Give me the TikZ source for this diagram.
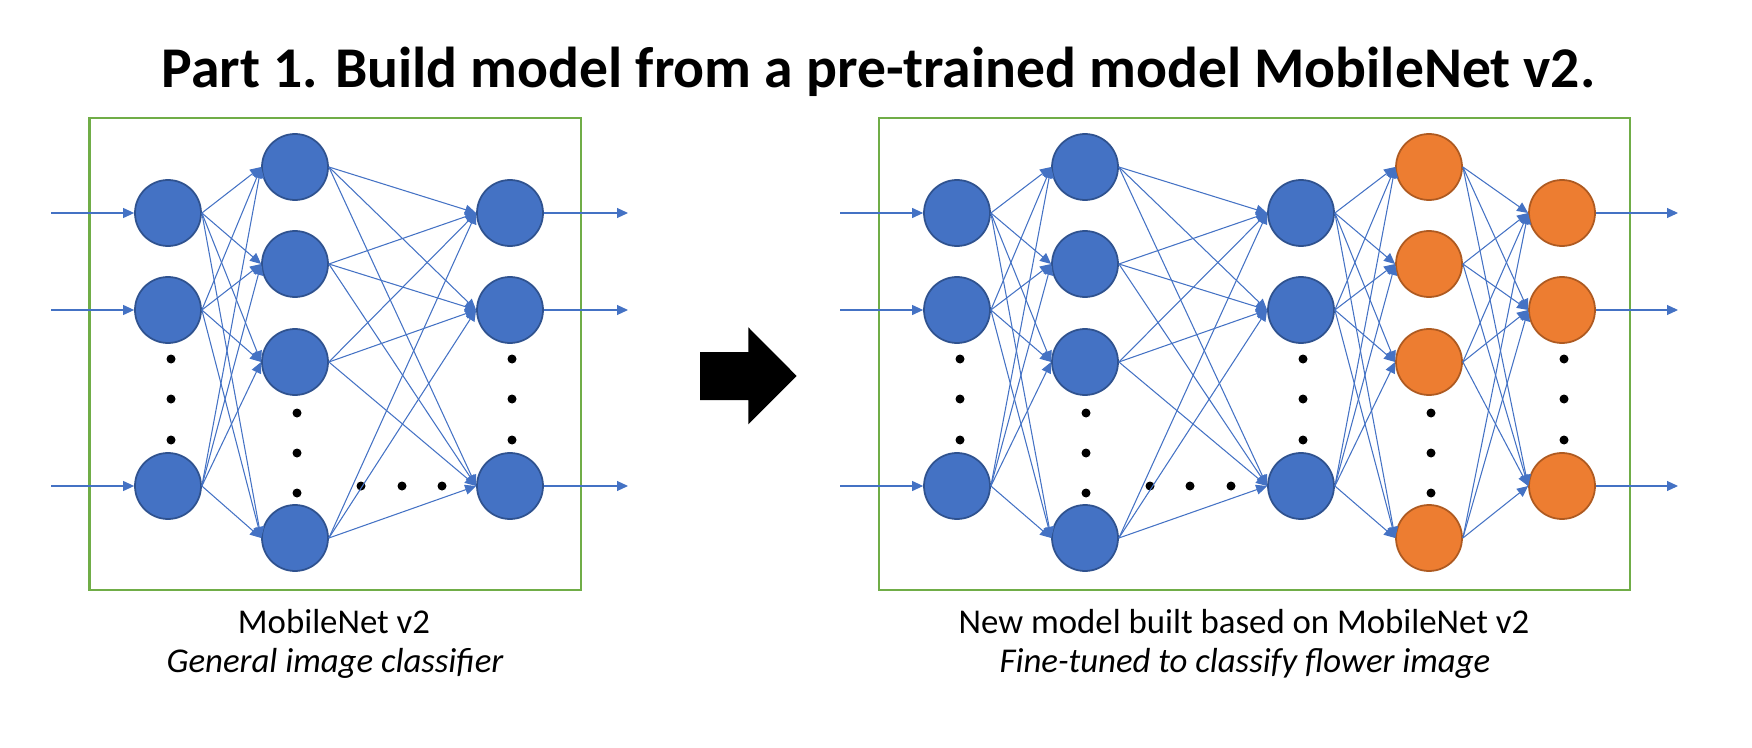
\documentclass[tikz,border=0pt]{standalone}
\usepackage{fontspec}
\setmainfont{Carlito}
\usetikzlibrary{arrows.meta}
\definecolor{netblue}{HTML}{4472C4}
\definecolor{netblueedge}{HTML}{2F528F}
\definecolor{netorange}{HTML}{ED7D31}
\definecolor{netorangeedge}{HTML}{AE5A21}
\definecolor{netgreen}{HTML}{70AD47}
\tikzset{
    neuron/.style={circle, minimum size=0.66cm, inner sep=0pt, line width=0.5pt},
    bluenode/.style={neuron, fill=netblue, draw=netblueedge},
    orangenode/.style={neuron, fill=netorange, draw=netorangeedge},
    wire/.style={draw=netblue, line width=0.3pt, -{Triangle[length=0.11cm, width=0.10cm]}},
    netbox/.style={draw=netgreen, line width=0.6pt},
    caption/.style={black, anchor=base, font=\fontsize{9.9}{11}\selectfont},
}
\begin{document}
\begin{tikzpicture}
            \useasboundingbox (0,0) rectangle (17.52,-7.48);
            \node[black, anchor=base west, inner sep=0pt, font=\fontsize{16.4}{19}\selectfont\bfseries] (title) at (1.61,-0.88) {Part 1. Build model from a pre-trained model MobileNet v2.};
            % left network: MobileNet v2
            \draw[netbox] (0.895,-1.18) rectangle (5.81,-5.90);
            \node[bluenode] (l1a) at (1.68,-2.13) {};
            \node[bluenode] (l1b) at (1.68,-3.10) {};
            \node[bluenode] (l1c) at (1.68,-4.86) {};
            \node[bluenode] (l2a) at (2.95,-1.67) {};
            \node[bluenode] (l2b) at (2.95,-2.64) {};
            \node[bluenode] (l2c) at (2.95,-3.62) {};
            \node[bluenode] (l2d) at (2.95,-5.38) {};
            \node[bluenode] (l3a) at (5.10,-2.13) {};
            \node[bluenode] (l3b) at (5.10,-3.10) {};
            \node[bluenode] (l3c) at (5.10,-4.86) {};
            \foreach \y in {3.59,3.99,4.40} {
                \fill[black] (1.71,-\y) circle (0.045);
                \fill[black] (5.12,-\y) circle (0.045);
            }
            \foreach \y in {4.13,4.53,4.93} \fill[black] (2.97,-\y) circle (0.045);
            \foreach \x in {3.61,4.02,4.42} \fill[black] (\x,-4.86) circle (0.045);
            \foreach \s in {a,b,c} {
                \coordinate (lin\s) at (0.51,0 |- l1\s);
                \coordinate (lout\s) at (6.28,0 |- l3\s);
                \draw[wire] (lin\s) -- (l1\s.west);
                \draw[wire] (l3\s.east) -- (lout\s);
                \foreach \t in {a,b,c,d} {
                    \draw[wire] (l1\s.east) -- (l2\t.west);
                    \draw[wire] (l2\t.east) -- (l3\s.west);
                }
            }
            \node[caption] (lname) at (3.34,-6.33) {MobileNet v2};
            \node[caption, font=\fontsize{9.9}{11}\selectfont\itshape] (ltask) at (3.35,-6.72) {General image classifier};
            % big arrow
            \fill[black] (7.00,-3.52) -- (7.483,-3.52) -- (7.483,-3.273) -- (7.967,-3.76)
                -- (7.483,-4.243) -- (7.483,-4.00) -- (7.00,-4.00) -- cycle;
            % right network: fine-tuned model
            \draw[netbox] (8.79,-1.18) rectangle (16.30,-5.90);
            \node[bluenode] (r1a) at (9.57,-2.13) {};
            \node[bluenode] (r1b) at (9.57,-3.10) {};
            \node[bluenode] (r1c) at (9.57,-4.86) {};
            \node[bluenode] (r2a) at (10.85,-1.67) {};
            \node[bluenode] (r2b) at (10.85,-2.64) {};
            \node[bluenode] (r2c) at (10.85,-3.62) {};
            \node[bluenode] (r2d) at (10.85,-5.38) {};
            \node[bluenode] (r3a) at (13.01,-2.13) {};
            \node[bluenode] (r3b) at (13.01,-3.10) {};
            \node[bluenode] (r3c) at (13.01,-4.86) {};
            \node[orangenode] (r4a) at (14.29,-1.67) {};
            \node[orangenode] (r4b) at (14.29,-2.64) {};
            \node[orangenode] (r4c) at (14.29,-3.62) {};
            \node[orangenode] (r4d) at (14.29,-5.38) {};
            \node[orangenode] (r5a) at (15.62,-2.13) {};
            \node[orangenode] (r5b) at (15.62,-3.10) {};
            \node[orangenode] (r5c) at (15.62,-4.86) {};
            \foreach \y in {3.59,3.99,4.40} {
                \fill[black] (9.60,-\y) circle (0.045);
                \fill[black] (13.03,-\y) circle (0.045);
                \fill[black] (15.64,-\y) circle (0.045);
            }
            \foreach \y in {4.13,4.53,4.93} {
                \fill[black] (10.86,-\y) circle (0.045);
                \fill[black] (14.31,-\y) circle (0.045);
            }
            \foreach \x in {11.50,11.90,12.31} \fill[black] (\x,-4.86) circle (0.045);
            \foreach \s in {a,b,c} {
                \coordinate (rin\s) at (8.40,0 |- r1\s);
                \coordinate (rout\s) at (16.78,0 |- r5\s);
                \draw[wire] (rin\s) -- (r1\s.west);
                \draw[wire] (r5\s.east) -- (rout\s);
                \foreach \t in {a,b,c,d} {
                    \draw[wire] (r1\s.east) -- (r2\t.west);
                    \draw[wire] (r2\t.east) -- (r3\s.west);
                    \draw[wire] (r3\s.east) -- (r4\t.west);
                    \draw[wire] (r4\t.east) -- (r5\s.west);
                }
            }
            \node[caption] (rname) at (12.44,-6.33) {New model built based on MobileNet v2};
            \node[caption, font=\fontsize{9.9}{11}\selectfont\itshape] (rtask) at (12.45,-6.72) {Fine-tuned to classify flower image};
        \end{tikzpicture}
\end{document}
